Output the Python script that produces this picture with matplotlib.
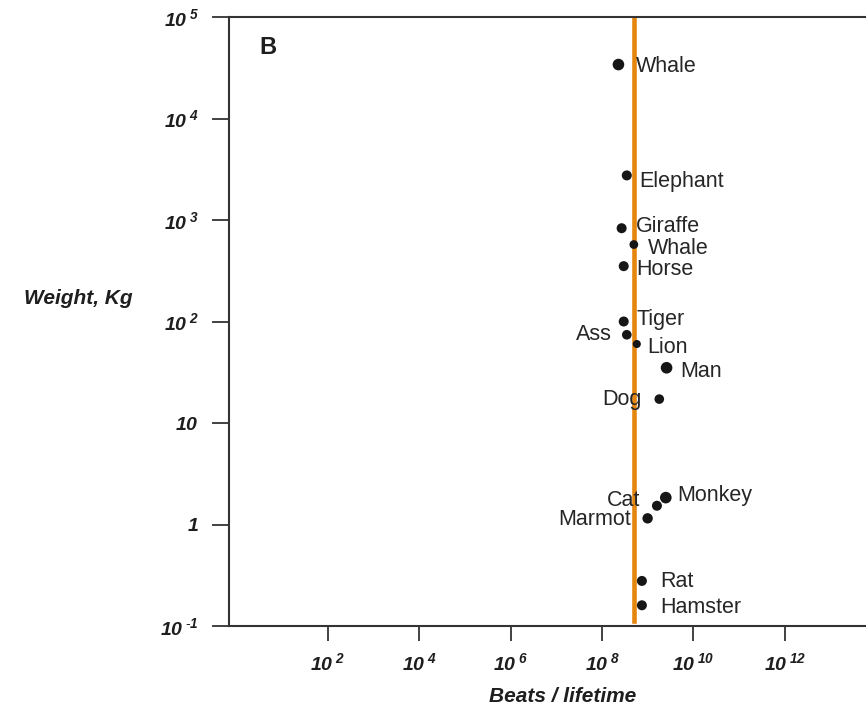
import matplotlib
matplotlib.use("Agg")
import matplotlib.pyplot as plt
import numpy as np

plt.rcParams['font.family'] = ['Liberation Sans', 'DejaVu Sans']
plt.rcParams['mathtext.fontset'] = 'custom'
plt.rcParams['mathtext.rm'] = 'Liberation Sans'
plt.rcParams['mathtext.it'] = 'Liberation Sans:italic'
plt.rcParams['mathtext.bf'] = 'Liberation Sans:bold'
plt.rcParams['mathtext.bfit'] = 'Liberation Sans:bold:italic'

# data
animals = ['Whale', 'Elephant', 'Giraffe', 'Whale', 'Horse', 'Tiger', 'Ass', 'Lion',
           'Man', 'Dog', 'Monkey', 'Cat', 'Marmot', 'Rat', 'Hamster']
beats = [2.3e8, 3.5e8, 2.7e8, 5.0e8, 3.0e8, 3.0e8, 3.5e8, 5.8e8,
         2.6e9, 1.8e9, 2.5e9, 1.6e9, 1.0e9, 7.5e8, 7.5e8]
weight = [3.4e4, 2750, 830, 573, 351, 100, 74, 60,
          35, 17.2, 1.84, 1.53, 1.15, 0.278, 0.16]
constant_beats = 5.1e8

x_ticks = [1e2, 1e4, 1e6, 1e8, 1e10, 1e12]
x_exps = ['2', '4', '6', '8', '10', '12']
y_ticks = [1e-1, 1, 10, 1e2, 1e3, 1e4, 1e5]
y_exps = ['-1', None, None, '2', '3', '4', '5']
y_plain = {1: '1', 10: '10'}


def pow_label(exp):
    if exp.startswith('-'):
        return r'$\mathbfit{10}^{\;\text{-}\mathbfit{%s}}$' % exp[1:]
    return r'$\mathbfit{10}^{\;\mathbfit{%s}}$' % exp


# label placement (offset in pixels from the dot, alignment) - styling only
label_offsets = [(17, -2), (12, -6), (14, 2), (14, -4), (13, -3), (13, 2), (-15, 0), (10, -3),
                 (14, -4), (-18, 0), (11, 2), (-17, 5), (-17, -1), (18, -1), (18, -2)]
dot_sizes = [70, 52, 52, 40, 52, 52, 48, 34, 70, 48, 70, 52, 56, 52, 52]

fig = plt.figure(figsize=(8.66, 7.11), dpi=100)
W, H = 866, 711
left_px, bottom_px, top_px = 229, 626, 17
x_lo, x_hi = -0.16, 14.5
px_per_dec = 45.7
ax = fig.add_axes([left_px / W, (H - bottom_px) / H,
                   (x_hi - x_lo) * px_per_dec / W, (bottom_px - top_px) / H])
ax.set_xscale('log')
ax.set_yscale('log')
ax.set_xlim(10 ** x_lo, 10 ** x_hi)
ax.set_ylim(1e-1, 1e5)

ax.axvline(constant_beats, ymin=0.008, ymax=1, color='#E5860F', lw=3.3, zorder=2)
ax.scatter(beats, weight, s=dot_sizes, color='#161616', zorder=3, linewidths=0)

px2pt = 72 / 100
for name, bx, wy, (dx, dy) in zip(animals, beats, weight, label_offsets):
    ax.annotate(name, (bx, wy), xytext=(dx * px2pt, dy * px2pt), textcoords='offset points',
                ha='left' if dx > 0 else 'right', va='center', fontsize=15.5,
                color='#262626', zorder=4)

ax.set_xticks(x_ticks)
ax.set_xticklabels([pow_label(e) for e in x_exps])
ax.set_yticks(y_ticks)
ax.set_yticklabels([pow_label(e) if e else r'$\mathbfit{%s}$' % y_plain[int(v)]
                    for v, e in zip(y_ticks, y_exps)])
ax.minorticks_off()
ax.tick_params(axis='y', direction='out', length=12, width=1.3, pad=10,
               labelsize=14, color='#333333', labelcolor='#1e1e1e')
ax.tick_params(axis='x', direction='out', length=11, width=1.3, pad=8,
               labelsize=14, color='#333333', labelcolor='#1e1e1e')
for s in ax.spines.values():
    s.set_color('#333333')
    s.set_linewidth(1.5)

fig.text(78 / W, 1 - 298 / H, 'Weight, Kg', ha='center', va='center',
         fontsize=15, fontweight='bold', style='italic', color='#1e1e1e')
fig.text(563 / W, 1 - 697 / H, 'Beats / lifetime', ha='center', va='center',
         fontsize=15, fontweight='bold', style='italic', color='#1e1e1e')
fig.text(268 / W, 1 - 47 / H, 'B', ha='center', va='center',
         fontsize=17, fontweight='bold', color='#1e1e1e')

fig.savefig('out.png', dpi=100)
